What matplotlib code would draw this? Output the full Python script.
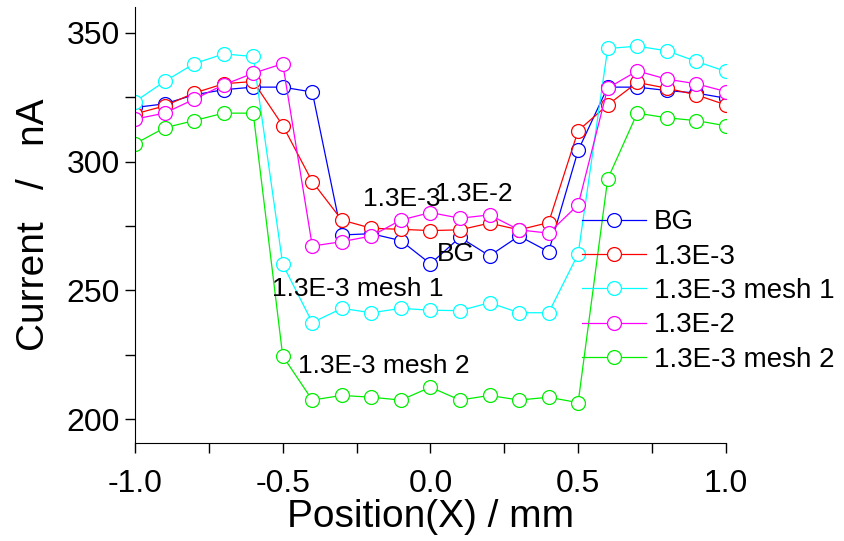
import matplotlib
matplotlib.use("Agg")
import matplotlib.pyplot as plt
from matplotlib.ticker import MultipleLocator

plt.rcParams['font.family'] = ['Liberation Sans', 'DejaVu Sans']

# positions in mm
position = [-1.0, -0.9, -0.8, -0.7, -0.6, -0.5, -0.4, -0.3, -0.2, -0.1, 0.0,
            0.1, 0.2, 0.3, 0.4, 0.5, 0.6, 0.7, 0.8, 0.9, 1.0]

# currents in nA
bg = [321, 322.4, 325.9, 327.9, 328.9, 328.9, 327, 271.5, 272, 269.3, 260.3,
      270.6, 263.4, 271.1, 265, 304.3, 328.9, 328.9, 327.6, 326.6, 324.6]
e3 = [318.5, 321.6, 326.6, 330.2, 331.1, 314, 292.2, 277.3, 274.1, 273.7, 273.2,
      273.5, 276.1, 273.5, 276.3, 312, 322, 330.7, 328.5, 325.9, 322]
mesh1 = [323.3, 331.1, 338, 341.8, 340.8, 260.1, 237.5, 243, 241.3, 243, 242.3,
         242.1, 245.2, 241.3, 241.3, 264.1, 343.9, 344.8, 343, 338.9, 335]
e2 = [316.5, 318.8, 324.2, 329.8, 334.3, 338, 267.2, 268.9, 271.1, 277.3, 280.2,
      278, 279.3, 273.5, 272.2, 283.2, 328.5, 335.2, 332, 330.2, 327.2]
mesh2 = [306.9, 313.1, 315.9, 318.8, 318.8, 224.5, 207.4, 209.2, 208.5, 207.4, 212.4,
         207.4, 209.2, 207.4, 208.5, 206.4, 293.2, 318.8, 317, 315.9, 313.9]

series = [
    ("BG", bg, "#0000ff"),
    ("1.3E-3", e3, "#ff0000"),
    ("1.3E-3 mesh 1", mesh1, "#00ffff"),
    ("1.3E-2", e2, "#ff00ff"),
    ("1.3E-3 mesh 2", mesh2, "#00ee00"),
]

fig = plt.figure(figsize=(8.44, 5.41), dpi=100)
ax = fig.add_axes([0.16, 0.181, 0.70, 0.806])

for name, vals, col in series:
    ax.plot(position, vals, '-o', color=col, lw=0.9, ms=10,
            mfc='white', mec=col, mew=0.9, label=name)

ax.set_xlim(-1.0, 1.0)
ax.set_ylim(190.7, 360)
ax.xaxis.set_major_locator(MultipleLocator(0.5))
ax.xaxis.set_minor_locator(MultipleLocator(0.25))
ax.yaxis.set_major_locator(MultipleLocator(50))
ax.yaxis.set_minor_locator(MultipleLocator(25))
ax.xaxis.set_major_formatter(plt.FuncFormatter(lambda v, p: f"{v:.1f}"))
ax.tick_params(which='both', direction='out', labelsize=23, width=1, length=7)
ax.tick_params(axis='x', pad=12)
ax.tick_params(axis='y', pad=4)
for s in ['top', 'right']:
    ax.spines[s].set_visible(False)

ax.set_xlabel("Position(X) / mm", fontsize=28, labelpad=0)
ax.set_ylabel("Current   /   nA", fontsize=28, labelpad=10)

# curve labels inside the plot
ax.text(-0.096, 285.5, "1.3E-3", fontsize=19, ha='center', va='center')
ax.text(0.147, 287.5, "1.3E-2", fontsize=19, ha='center', va='center')
ax.text(0.086, 264.1, "BG", fontsize=19, ha='center', va='center')
ax.text(-0.245, 250.5, "1.3E-3 mesh 1", fontsize=19, ha='center', va='center')
ax.text(-0.157, 220.6, "1.3E-3 mesh 2", fontsize=19, ha='center', va='center')

ax.legend(loc='center left', bbox_to_anchor=(0.756, 0.349), frameon=False,
          fontsize=20, borderpad=0, borderaxespad=0, handlelength=2.3,
          handletextpad=0.3, labelspacing=0.3)

fig.savefig("out.png", dpi=100)
